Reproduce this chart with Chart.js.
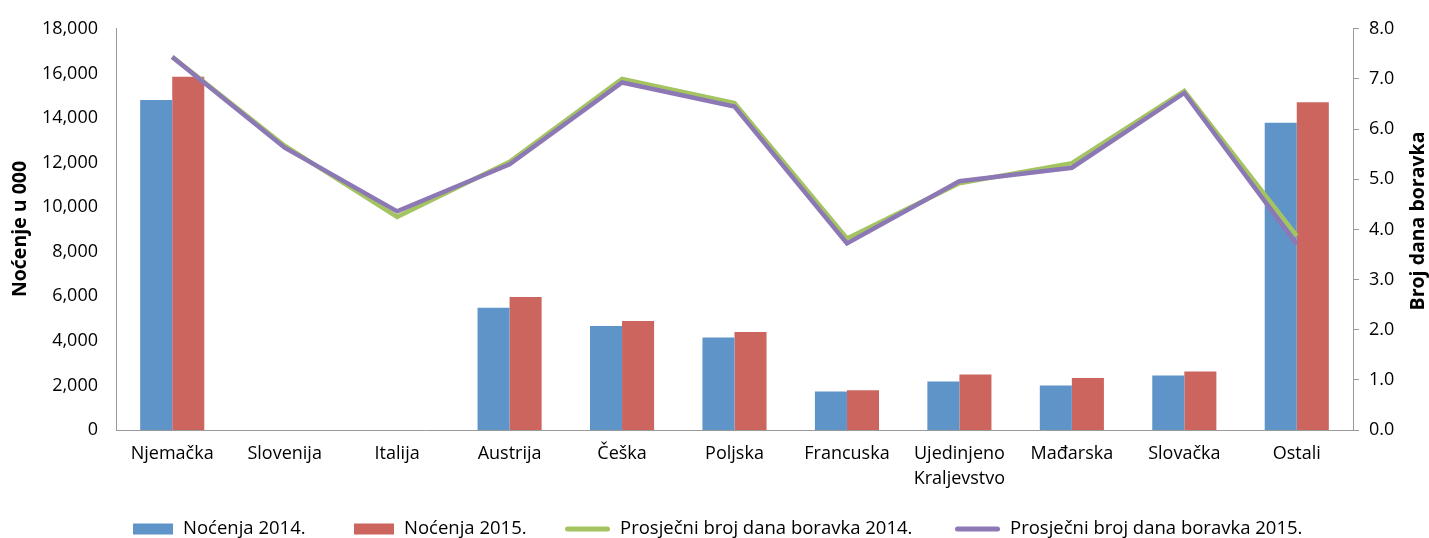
<!DOCTYPE html>
<html><head><meta charset="utf-8">
<script src="https://cdn.jsdelivr.net/npm/chart.js@4/dist/chart.umd.min.js"></script>
<style>html,body{margin:0;padding:0;background:#fff;}canvas{display:block;}</style>
</head><body>
<canvas id="c" width="1429" height="538"></canvas>
<script>
const categories = ['Njemačka','Slovenija','Italija','Austrija','Češka','Poljska','Francuska',['Ujedinjeno','Kraljevstvo'],'Mađarska','Slovačka','Ostali'];
const nocenja2014 = [14800, null, null, 5480, 4670, 4150, 1730, 2180, 2000, 2440, 13780];
const nocenja2015 = [15850, null, null, 5970, 4890, 4400, 1780, 2490, 2330, 2620, 14700];
const prosjek2014 = [7.44, 5.67, 4.25, 5.35, 7.00, 6.52, 3.82, 4.92, 5.32, 6.76, 3.87];
const prosjek2015 = [7.44, 5.63, 4.36, 5.30, 6.93, 6.45, 3.72, 4.96, 5.23, 6.72, 3.70];
const leftTickLabels = ['0','2,000','4,000','6,000','8,000','10,000','12,000','14,000','16,000','18,000'];
const rightTickLabels = ['0.0','1.0','2.0','3.0','4.0','5.0','6.0','7.0','8.0'];
const seriesNames = ['Noćenja 2014.','Noćenja 2015.','Prosječni broj dana boravka 2014.','Prosječni broj dana boravka 2015.'];
const leftTitle = 'Noćenje u 000';
const rightTitle = 'Broj dana boravka';

const FONT = '"Open Sans", sans-serif';
const AXIS = '#9a9a9a';
const COLORS = ['#5F94C9','#CC655E','#A3C460','#8D78B6'];

const extrasPlugin = {
  id: 'extras',
  afterDraw(chart) {
    const ctx = chart.ctx;
    ctx.save();
    ctx.fillStyle = '#000';
    ctx.font = 'bold 19.5px ' + FONT;
    ctx.textAlign = 'center';
    ctx.textBaseline = 'middle';
    ctx.save(); ctx.translate(20, 229); ctx.rotate(-Math.PI/2); ctx.fillText(leftTitle, 0, 0); ctx.restore();
    ctx.save(); ctx.translate(1418, 221); ctx.rotate(-Math.PI/2); ctx.fillText(rightTitle, 0, 0); ctx.restore();
    // legend
    const starts = [133, 354, 565, 955];
    ctx.font = '18.5px ' + FONT;
    ctx.textAlign = 'left';
    const yc = 529;
    chart.data.datasets.forEach((ds, i) => {
      const x = starts[i];
      let w;
      if (ds.type === 'line') {
        w = 45;
        ctx.strokeStyle = ds.borderColor; ctx.lineWidth = 5; ctx.lineCap = 'round';
        ctx.beginPath(); ctx.moveTo(x + 2.5, yc); ctx.lineTo(x + w - 2.5, yc); ctx.stroke();
      } else {
        w = 40;
        ctx.fillStyle = ds.backgroundColor; ctx.fillRect(x, yc - 5.5, w, 11);
      }
      ctx.fillStyle = '#000';
      ctx.fillText(ds.label, x + w + 10, yc);
    });
    ctx.restore();
  }
};

new Chart(document.getElementById('c'), {
  type: 'bar',
  data: {
    labels: categories,
    datasets: [
      {label: seriesNames[0], data: nocenja2014, backgroundColor: COLORS[0], yAxisID: 'y', order: 2, categoryPercentage: 0.57, barPercentage: 1.0},
      {label: seriesNames[1], data: nocenja2015, backgroundColor: COLORS[1], yAxisID: 'y', order: 3, categoryPercentage: 0.57, barPercentage: 1.0},
      {type: 'line', label: seriesNames[2], data: prosjek2014, borderColor: COLORS[2], backgroundColor: COLORS[2], borderWidth: 4.5, pointRadius: 0, tension: 0, yAxisID: 'y1', order: 1},
      {type: 'line', label: seriesNames[3], data: prosjek2015, borderColor: COLORS[3], backgroundColor: COLORS[3], borderWidth: 4.5, pointRadius: 0, tension: 0, yAxisID: 'y1', order: 0}
    ]
  },
  options: {
    responsive: false,
    animation: false,
    devicePixelRatio: 1,
    layout: {padding: {top: 25, left: 0, right: 0, bottom: 0}},
    plugins: {legend: {display: false}, tooltip: {enabled: false}},
    scales: {
      x: {
        grid: {display: false, drawTicks: false},
        border: {display: true, color: AXIS, width: 1},
        ticks: {color: '#000', font: {family: FONT, size: 18, lineHeight: 1.35}, padding: 12, maxRotation: 0, autoSkip: false},
        afterFit(s) { s.height = 108; }
      },
      y: {
        position: 'left', min: 0, max: 18000,
        grid: {display: false, drawTicks: false},
        border: {display: true, color: AXIS, width: 1},
        ticks: {stepSize: 2000, color: '#000', font: {family: FONT, size: 18}, padding: 18,
          callback: (v, i) => leftTickLabels[i]},
        afterFit(s) { s.width = 116; }
      },
      y1: {
        position: 'right', min: 0, max: 8,
        grid: {display: true, drawOnChartArea: false, drawTicks: true, tickLength: 6, color: AXIS},
        border: {display: true, color: AXIS, width: 1},
        ticks: {stepSize: 1, color: '#000', font: {family: FONT, size: 18}, padding: 10,
          callback: (v, i) => rightTickLabels[i]},
        afterFit(s) { s.width = 76; }
      }
    }
  },
  plugins: [extrasPlugin]
});
</script>
</body></html>
